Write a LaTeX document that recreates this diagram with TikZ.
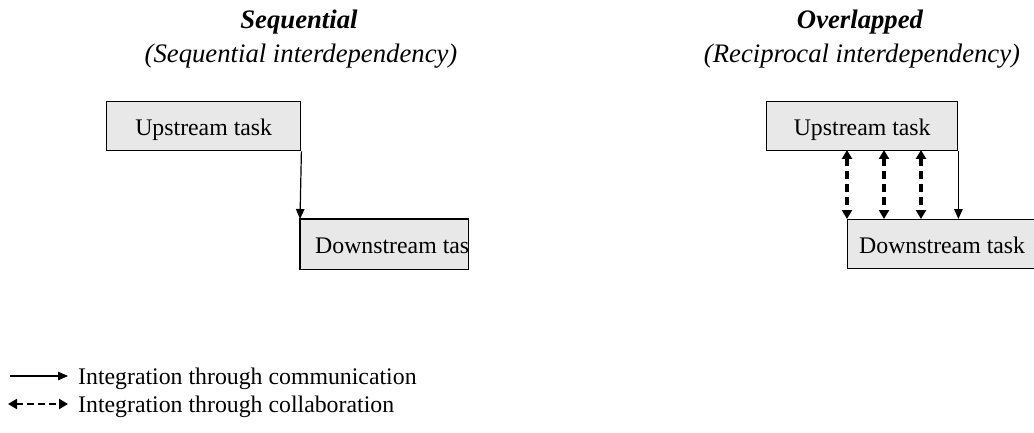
\documentclass[tikz,border=0pt]{standalone}
\usepackage{fontspec}
\setmainfont{Liberation Serif}
\usetikzlibrary{arrows.meta}
\begin{document}
\begin{tikzpicture}[x=1pt,y=-1pt,
  taskbox/.style={draw=black,line width=1.4pt,fill=black!9,inner sep=0pt,anchor=north west},
  lbl/.style={font=\fontsize{23.8}{28}\selectfont,inner sep=0pt},
  ttl/.style={font=\fontsize{26.7}{32}\selectfont\bfseries\itshape,inner sep=0pt,anchor=base},
  subttl/.style={font=\fontsize{26.7}{32}\selectfont\itshape,inner sep=0pt,anchor=base},
  comm/.style={line width=1.2pt,-{Triangle[length=10pt,width=8.5pt]}},
  collab/.style={line width=3.2pt,dash pattern=on 8pt off 5pt,{Triangle[length=9pt,width=10pt]}-{Triangle[length=9pt,width=10pt]}}]
\useasboundingbox (0,0) rectangle (1034,433);
\clip (0,0) rectangle (1034,433);

% Sequential interdependency
\node[ttl] (t1) at (299,29) {Sequential};
\node[subttl] (s1) at (301,63) {(Sequential interdependency)};
\node[taskbox,minimum width=194pt,minimum height=49pt] (u1) at (106,101) {};
\node[lbl,anchor=base] (u1t) at ([yshift=-9.5pt]u1.center) {Upstream task};
% downstream box: the label runs past the right border and is cut there
\node[taskbox,draw=none,minimum width=167pt,minimum height=49pt] (d1) at (300,219) {};
\begin{scope}
  \clip (d1.south west) rectangle (d1.north east);
  \node[lbl,anchor=base west] (d1t) at ([xshift=15pt,yshift=-9.5pt]d1.west) {Downstream task};
\end{scope}
\draw[line width=1.4pt] (d1.south west) rectangle (d1.north east);
\draw[comm] (u1.south east) -- (d1.north west);

% Reciprocal interdependency
\node[ttl] (t2) at (860,29) {Overlapped};
\node[subttl] (s2) at (862,63) {(Reciprocal interdependency)};
\node[taskbox,minimum width=191pt,minimum height=49pt] (u2) at (766,101) {};
\node[lbl,anchor=base] (u2t) at ([yshift=-9.5pt]u2.center) {Upstream task};
\node[taskbox,minimum width=200pt,minimum height=49pt] (d2) at (847,219) {};
\node[lbl,anchor=base west] (d2t) at ([xshift=12pt,yshift=-9.5pt]d2.west) {Downstream task};
\draw[comm] (u2.south east) -- (u2.south east |- d2.north);
\foreach \xx in {847,884,921}
  \draw[collab] (\xx,150) -- (\xx,219);

% Legend
\coordinate (la) at (10,376);
\coordinate (lb) at (68,376);
\draw[comm] (la) -- (lb);
\node[lbl,anchor=base west] (l1) at (78,384) {Integration through communication};
\coordinate (lc) at (8,404);
\coordinate (ld) at (68,404);
\draw[collab,line width=2.6pt,dash pattern=on 7pt off 4pt] (lc) -- (ld);
\node[lbl,anchor=base west] (l2) at (78,412) {Integration through collaboration};
\end{tikzpicture}
\end{document}
